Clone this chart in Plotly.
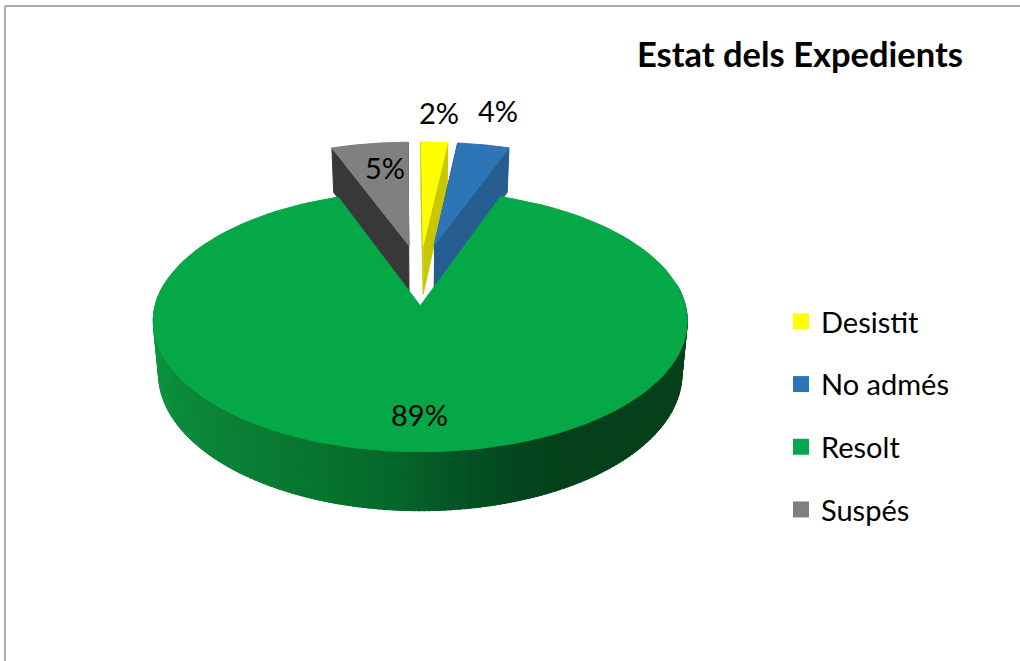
import numpy as np
import plotly.graph_objects as go

categories = ['Desistit', 'No admés', 'Resolt', 'Suspés']
values = [1.9, 3.7, 88.95, 5.45]
top_colors = ['#ffff00', '#2e75b6', '#04a846', '#808080']
side_colors = ['#c9c800', '#255d90', '#0a7a34', '#383838']
legend_colors = ['#ffff00', '#2e75b6', '#00a84f', '#7f7f7f']

# where Excel put the percentage labels
label_x = [439, 498, 419, 385]
label_y = [112, 110, 414, 167]

# green rim shading, angle in degrees going clockwise from the top
rim_angles = [80, 117, 150, 164, 171, 180, 184, 200, 218, 255, 280]
rim_red = [4, 4, 4, 4, 5, 6, 6, 8, 10, 10, 10]
rim_green = [66, 64, 64, 74, 82, 95, 103, 117, 128, 148, 152]
rim_blue = [27, 26, 25, 32, 37, 40, 43, 47, 53, 64, 66]

START_ANGLE = -0.5
EXPLODE = 0.25

# tilted disc seen in perspective
CX, CY = 420, 274.5
RX, RY = 257.5, 121.4
PERSP = 0.115
DEPTH = 50.5
SHRINK = 0.02


def project(u, v, low=0):
    w = 1 + PERSP * v
    x = CX + RX * u / w * (1 - low * SHRINK)
    y = CY - RY * v / w + low * DEPTH / w
    return x, y


def wedge(a0, a1, mid):
    # outline of one slice on the unit disc, pushed out along its middle angle
    t = np.radians(np.linspace(a0, a1, 120))
    off_u = EXPLODE * np.sin(np.radians(mid))
    off_v = EXPLODE * np.cos(np.radians(mid))
    u = np.concatenate([[off_u], off_u + np.sin(t), [off_u]])
    v = np.concatenate([[off_v], off_v + np.cos(t), [off_v]])
    return u, v


def polygon(x, y, color):
    return go.Scatter(x=x, y=y, mode='lines', fill='toself', fillcolor=color,
                      line=dict(color=color, width=1), showlegend=False, hoverinfo='skip')


fig = go.Figure()

# slices from back to front, green is drawn last
edges = START_ANGLE + np.cumsum([0] + values) * 3.6
for i in [3, 0, 1, 2]:
    a0, a1 = edges[i], edges[i + 1]
    mid = (a0 + a1) / 2
    u, v = wedge(a0, a1, mid)

    if i == 2:
        # outer rim, only the part facing the viewer
        for a in np.arange(80, 280, 1.0):
            t = np.radians(np.array([a, a + 1.4]))
            ru = EXPLODE * np.sin(np.radians(mid)) + np.sin(t)
            rv = EXPLODE * np.cos(np.radians(mid)) + np.cos(t)
            x_up, y_up = project(ru, rv)
            x_lo, y_lo = project(ru, rv, low=1)
            c = 'rgb(%d,%d,%d)' % (np.interp(a, rim_angles, rim_red),
                                   np.interp(a, rim_angles, rim_green),
                                   np.interp(a, rim_angles, rim_blue))
            fig.add_trace(polygon(np.r_[x_up, x_lo[::-1]], np.r_[y_up, y_lo[::-1]], c))
    else:
        # the two cut faces
        for j in [1, -2]:
            ex = [u[0], u[j]]
            ey = [v[0], v[j]]
            x_up, y_up = project(np.array(ex), np.array(ey))
            x_lo, y_lo = project(np.array(ex), np.array(ey), low=1)
            fig.add_trace(polygon(np.r_[x_up, x_lo[::-1]], np.r_[y_up, y_lo[::-1]], side_colors[i]))

    x, y = project(u, v)
    fig.add_trace(polygon(x, y, top_colors[i]))

# legend swatches
for name, color in zip(categories, legend_colors):
    fig.add_trace(go.Scatter(x=[None], y=[None], mode='markers', name=name, legendgroup=name,
                             marker=dict(symbol='square', size=19, color=color)))

for i, val in enumerate(values):
    fig.add_annotation(x=label_x[i], y=label_y[i], text='%d%%' % round(val), showarrow=False,
                       font=dict(family='Lato', size=29, color='#000000'))

# chart frame, only top and left show
fig.add_shape(type='line', x0=5, x1=1020, y0=6, y1=6, line=dict(color='#ababab', width=2))
fig.add_shape(type='line', x0=5, x1=5, y0=6, y1=661, line=dict(color='#ababab', width=2))

fig.update_layout(
    width=1020, height=661,
    margin=dict(l=0, r=0, t=0, b=0),
    paper_bgcolor='white', plot_bgcolor='white',
    hovermode=False,
    title=dict(text='<b>Estat dels Expedients</b>', x=963 / 1020, xanchor='right',
               y=1 - 55 / 661, yanchor='middle',
               font=dict(family='Lato', size=34.5, color='#000000')),
    xaxis=dict(range=[0, 1020], visible=False),
    yaxis=dict(range=[661, 0], visible=False),
    legend=dict(x=781 / 1020, xanchor='left', y=1 - 296 / 661, yanchor='top',
                traceorder='grouped', tracegroupgap=22, bgcolor='rgba(0,0,0,0)',
                font=dict(family='Lato', size=29, color='#000000')),
)

# the page margin would push the chart 8px off
fig.write_html('out.html', config=dict(displayModeBar=False),
               post_script="document.body.style.margin='0';")
